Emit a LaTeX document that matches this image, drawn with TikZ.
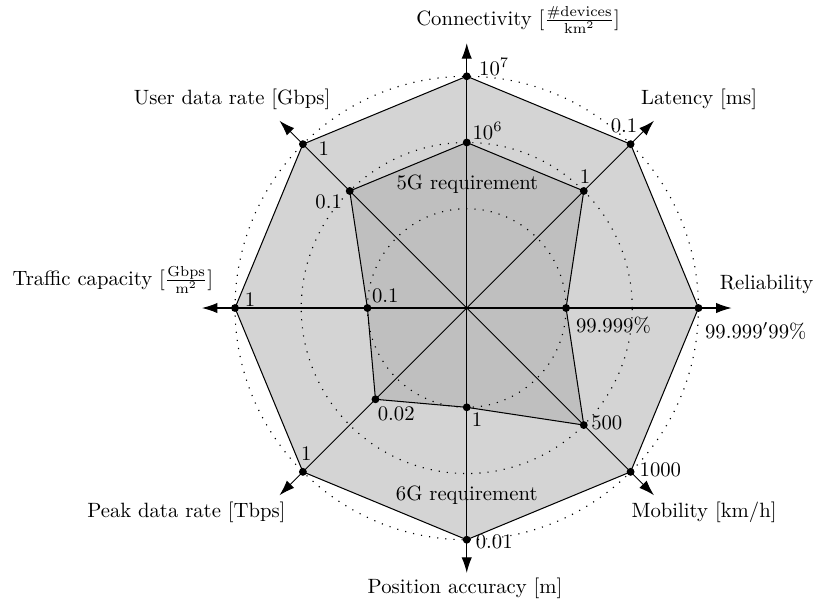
\documentclass[tikz,border=0pt]{standalone}
\usetikzlibrary{arrows.meta}
\definecolor{sixg}{gray}{0.83}
\definecolor{fiveg}{gray}{0.75}
\begin{document}
\begin{tikzpicture}[x=16pt,y=16pt,
  axis/.style={line width=0.5pt,-{Latex[length=7.5pt,width=5pt]}},
  ring/.style={line width=0.55pt,dash pattern=on 0.55pt off 3.4pt},
  edge/.style={line width=0.5pt,line join=miter},
  dot/.style={circle,fill=black,inner sep=0pt,minimum size=3.8pt},
  lbl/.style={inner sep=0pt},
]
\useasboundingbox (-14.10,-8.882) rectangle (10.49,9.305);
\coordinate (O) at (0,0);

% axis directions: outer (6G) points at radius 7, arrow tips at radius 8
\foreach \n/\a in {con/90,lat/45,rel/0,mob/-45,pos/-90,pea/-135,tra/180,use/135}{
  \coordinate (\n6) at (\a:7);
  \coordinate (\n8) at (\a:8);
}
% 5G points
\coordinate (con5) at (90:5);
\coordinate (lat5) at (45:5);
\coordinate (rel5) at (0:3);
\coordinate (mob5) at (-45:5);
\coordinate (pos5) at (-90:3);
\coordinate (pea5) at (-135:3.9);
\coordinate (tra5) at (180:3);
\coordinate (use5) at (135:5);

% filled areas
\fill[sixg] (con6) -- (lat6) -- (rel6) -- (mob6) -- (pos6) -- (pea6) -- (tra6) -- (use6) -- cycle;
\fill[fiveg] (con5) -- (lat5) -- (rel5) -- (mob5) -- (pos5) -- (pea5) -- (tra5) -- (use5) -- cycle;

% dotted reference rings
\draw[ring] (O) circle (3);
\draw[ring] (O) circle (5);
\draw[ring] (O) circle (7);

% outlines
\draw[edge] (con6) -- (lat6) -- (rel6) -- (mob6) -- (pos6) -- (pea6) -- (tra6) -- (use6) -- cycle;
\draw[edge] (con5) -- (lat5) -- (rel5) -- (mob5) -- (pos5) -- (pea5) -- (tra5) -- (use5) -- cycle;

% axes
\foreach \n in {con,lat,rel,mob,pos,pea,tra,use}{
  \draw[axis] (O) -- (\n8);
}

% value markers
\foreach \n in {con,lat,rel,mob,pos,pea,tra,use}{
  \node[dot] (d\n6) at (\n6) {};
  \node[dot] (d\n5) at (\n5) {};
}

% axis titles
\node[lbl] (tcon) at (1.55,8.70) {Connectivity [$\frac{\#\mathrm{devices}}{\mathrm{km}^2}$]};
\node[lbl] (tlat) at (7.02,6.30) {Latency [ms]};
\node[lbl] (trel) at (9.06,0.72) {Reliability};
\node[lbl] (tmob) at (7.17,-6.18) {Mobility [km/h]};
\node[lbl] (tpos) at (-0.05,-8.48) {Position accuracy [m]};
\node[lbl] (tpea) at (-8.47,-6.18) {Peak data rate [Tbps]};
\node[lbl] (ttra) at (-10.69,0.85) {Traffic capacity [$\frac{\mathrm{Gbps}}{\mathrm{m}^2}$]};
\node[lbl] (tuse) at (-7.09,6.30) {User data rate [Gbps]};

% value labels
\node[lbl] (vcon6) at (0.83,7.28) {$10^7$};
\node[lbl] (vcon5) at (0.63,5.35) {$10^6$};
\node[lbl] (vlat6) at (4.75,5.49) {0.1};
\node[lbl] (vlat5) at (3.57,3.97) {1};
\node[lbl] (vrel5) at (4.43,-0.52) {99.999\%};
\node[lbl] (vrel6) at (8.73,-0.69) {$99.999'99\%$};
\node[lbl] (vmob5) at (4.23,-3.48) {500};
\node[lbl] (vmob6) at (5.85,-4.89) {1000};
\node[lbl] (vpos6) at (0.83,-7.07) {0.01};
\node[lbl] (vpos5) at (0.31,-3.36) {1};
\node[lbl] (vpea5) at (-2.13,-3.19) {0.02};
\node[lbl] (vpea6) at (-4.85,-4.41) {1};
\node[lbl] (vtra6) at (-6.55,0.25) {1};
\node[lbl] (vtra5) at (-2.46,0.36) {0.1};
\node[lbl] (vuse6) at (-4.32,4.82) {1};
\node[lbl] (vuse5) at (-4.17,3.20) {0.1};

% area captions
\node[lbl] (c5g) at (0.02,3.73) {5G requirement};
\node[lbl] (c6g) at (0,-5.67) {6G requirement};
\end{tikzpicture}
\end{document}
